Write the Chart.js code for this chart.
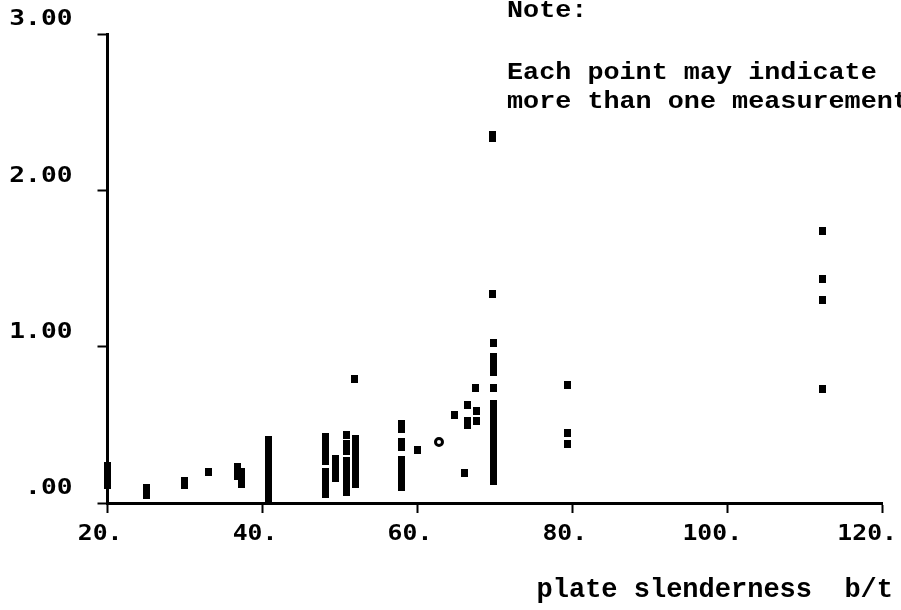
<!DOCTYPE html>
<html>
<head>
<meta charset="utf-8">
<script src="https://cdn.jsdelivr.net/npm/chart.js@4"></script>
<style>
  html, body { margin: 0; padding: 0; background: #fff; }
  #wrap { width: 901px; height: 610px; position: relative; }
</style>
</head>
<body>
<div id="wrap"><canvas id="chart"></canvas></div>
<script>
// plate slenderness b/t of each column of points, and the values read at it
const slenderness = [20, 25, 30, 33, 36.8, 37.3, 40.85, 48.2, 49.4, 50.9, 51.9, 52.0, 58.0, 60.0,
    64.8, 66.1, 66.5, 67.5, 67.6, 69.7, 69.8, 79.35, 112.35];
const measured = [
    [0.235, 0.2, 0.17, 0.14, 0.115],
    [0.099, 0.051],
    [0.14, 0.115],
    [0.198],
    [0.23, 0.2, 0.175],
    [0.2, 0.15, 0.12],
    [0.40, 0.36, 0.32, 0.28, 0.24, 0.20, 0.16, 0.12, 0.08, 0.04, 0.02],
    [0.42, 0.38, 0.34, 0.30, 0.27, 0.20, 0.16, 0.12, 0.09, 0.06],
    [0.28, 0.24, 0.20, 0.16],
    [0.435, 0.375, 0.335, 0.27, 0.23, 0.19, 0.15, 0.11, 0.07],
    [0.79],
    [0.41, 0.37, 0.33, 0.29, 0.25, 0.21, 0.17, 0.12],
    [0.505, 0.475, 0.39, 0.36, 0.275, 0.235, 0.195, 0.155, 0.12, 0.10],
    [0.34],
    [0.563],
    [0.19],
    [0.627, 0.525, 0.5],
    [0.736],
    [0.59, 0.525],
    [2.356, 2.337, 1.34],
    [1.024, 0.936, 0.902, 0.87, 0.838, 0.733, 0.635, 0.595, 0.555, 0.515, 0.475, 0.435,
        0.395, 0.355, 0.315, 0.275, 0.235, 0.195, 0.16, 0.14],
    [0.755, 0.445, 0.375],
    [1.743, 1.43, 1.296, 0.73]
];
// the one hollow point
const ringX = [62.8];
const ringY = [0.39];

const xTickLabels = ['20.', '40.', '60.', '80.', '100.', '120.'];
const yTickLabels = ['.00', '1.00', '2.00', '3.00'];
const noteLines = ['Note:', 'Each point may indicate', 'more than one measurement'];
const axisTitle = 'plate slenderness  b/t';

// flatten columns into scatter points
const points = [];
slenderness.forEach((x, i) => {
    measured[i].forEach(y => points.push({ x: x, y: y }));
});
const ring = ringX.map((x, i) => ({ x: x, y: ringY[i] }));

// small black block used as marker
const marker = document.createElement('canvas');
marker.width = 7;
marker.height = 8;
const mctx = marker.getContext('2d');
mctx.fillStyle = '#000';
mctx.fillRect(0, 0, 7, 8);

function stretchText(ctx, text, x, y, sx) {
    ctx.save();
    ctx.translate(x, y);
    ctx.scale(sx, 1);
    ctx.fillText(text, 0, 0);
    ctx.restore();
}

const textPlugin = {
    id: 'textPlugin',
    afterDraw(chart) {
        const ctx = chart.ctx;
        const xs = chart.scales.x;
        const ys = chart.scales.y;
        ctx.save();
        ctx.fillStyle = '#000';

        // tick labels
        ctx.font = 'bold 21px "DejaVu Sans Mono"';
        ctx.textAlign = 'right';
        ctx.textBaseline = 'middle';
        ys.ticks.forEach((t, i) => {
            stretchText(ctx, yTickLabels[i], ys.right - 35, ys.getPixelForValue(t.value) - 14, 1.25);
        });
        xs.ticks.forEach((t, i) => {
            stretchText(ctx, xTickLabels[i], xs.getPixelForValue(t.value) + 15, xs.top + 32, 1.18);
        });

        // axis title
        ctx.font = 'bold 27px "Liberation Mono"';
        ctx.textAlign = 'right';
        ctx.textBaseline = 'alphabetic';
        ctx.fillText(axisTitle, xs.right + 11, 597);

        // note
        ctx.font = 'bold 23.5px "Liberation Mono"';
        ctx.textAlign = 'left';
        stretchText(ctx, noteLines[0], 507, 17, 1.14);
        stretchText(ctx, noteLines[1], 507, 79, 1.14);
        stretchText(ctx, noteLines[2], 507, 108, 1.14);
        ctx.restore();
    }
};

const axisStyle = {
    grid: { display: true, drawOnChartArea: false, drawTicks: true, tickLength: 10, tickWidth: 2, tickColor: '#000' },
    border: { display: true, color: '#000', width: 3 }
};

new Chart(document.getElementById('chart'), {
    type: 'scatter',
    data: {
        datasets: [{
            data: points,
            pointStyle: marker,
            pointRadius: 4,
            pointHoverRadius: 4,
            clip: false
        }, {
            data: ring,
            pointStyle: 'circle',
            pointRadius: 3.5,
            pointBorderWidth: 3,
            pointBorderColor: '#000',
            pointBackgroundColor: '#fff',
            clip: false
        }]
    },
    options: {
        responsive: true,
        maintainAspectRatio: false,
        animation: false,
        layout: { padding: { top: 34, right: 19, left: 0, bottom: 0 } },
        plugins: { legend: { display: false }, tooltip: { enabled: false } },
        scales: {
            x: {
                type: 'linear',
                min: 20, max: 120,
                ticks: { stepSize: 20, display: false },
                ...axisStyle,
                afterFit: s => { s.height = 107; }
            },
            y: {
                min: 0, max: 3,
                ticks: { stepSize: 1, display: false },
                ...axisStyle,
                afterFit: s => { s.width = 107.5; }
            }
        }
    },
    plugins: [textPlugin]
});
</script>
</body>
</html>
